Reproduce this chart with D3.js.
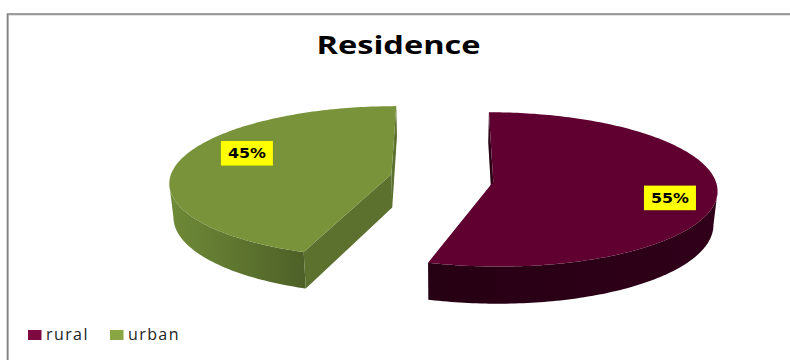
<!DOCTYPE html>
<html>
<head>
<meta charset="utf-8">
<script src="https://cdn.jsdelivr.net/npm/d3@7/dist/d3.min.js"></script>
<style>
  html, body { margin: 0; padding: 0; background: #fff; }
  svg { display: block; }
</style>
</head>
<body>
<svg id="chart" width="790" height="360"></svg>
<script>
// Chart content
const chartTitle = "Residence";
const categories = ["rural", "urban"];
const shares = [55, 45];

// Slice colours: top face, side walls (light and dark ends), legend swatch
const topColors = ["#600030", "#78933a"];
const wallLight = ["#300019", "#6f8a37"];
const wallDark = ["#260013", "#4e6128"];
const flatWall = ["#2a0015", "#5c712d"];
const legendColors = ["#7f0a42", "#8aa643"];

// Perspective camera for the tilted pie
const cam = { vx: 445, horizon: -587, height: 770, depthPerPx: 0.1 / 224, nadir: 0.985 };
const radius = 223;
const thickness = 33.5;
const baseX = -2.9;
const baseDepth = 1.0065;
const explode = 52.4;
const explodeTilt = 3 * Math.PI / 180;

// Small angular inset of the shared cut, in degrees, one [start, end] pair per slice
const cutInset = [[0, 1.4], [1.8, 0]];

// Data label placement, as a share of the radius and a turn past the mid angle
const labelReach = [0.8, 0.74];
const labelTurn = [6, 14];

const svg = d3.select("#chart");
const width = +svg.attr("width");
const height = +svg.attr("height");

// Frame: the chart border shows on its top and left sides
const frame = svg.append("g");
frame.append("path").attr("d", `M8.5,${height}V15H${width}`)
  .attr("fill", "none").attr("stroke", "#c8c8c8").attr("stroke-width", 1);
frame.append("path").attr("d", `M7.5,${height}V14H${width}`)
  .attr("fill", "none").attr("stroke", "#828282").attr("stroke-width", 1.6);

svg.append("text")
  .attr("x", 398.5).attr("y", 53.5)
  .attr("text-anchor", "middle")
  .attr("font-family", "Open Sans").attr("font-weight", 700)
  .attr("font-size", 25.5)
  .attr("textLength", 164).attr("lengthAdjust", "spacingAndGlyphs")
  .attr("fill", "#000")
  .text(chartTitle);

const defs = svg.append("defs");

// Ground-plane point (X across, depth away from the viewer) to screen, at a drop below the top face
function project(X, depth, drop) {
  const squeeze = 1 - (1 - cam.nadir) * drop / thickness;
  return [cam.vx + squeeze * X / depth, cam.horizon + (cam.height + drop) / depth];
}

const arcs = d3.pie().sort(null).startAngle(0).endAngle(2 * Math.PI)(shares);
const line = d3.line();
const step = Math.PI / 180;
const deg = Math.PI / 180;

const slices = svg.append("g");

arcs.forEach((arc, i) => {
  const mid = (arc.startAngle + arc.endAngle) / 2;
  const dir = mid + explodeTilt;
  const cx = baseX + explode * Math.sin(dir);
  const cz = baseDepth + explode * cam.depthPerPx * Math.cos(dir);
  const a0 = arc.startAngle + cutInset[i][0] * deg;
  const a1 = arc.endAngle - cutInset[i][1] * deg;

  const rim = a => [cx + radius * Math.sin(a), cz + radius * cam.depthPerPx * Math.cos(a)];
  const angles = d3.range(a0, a1, step).concat([a1]);

  // Which faces turn toward the viewer
  const seesNormal = (X, z, nx, nz) => (-X) * nx + (-z / cam.depthPerPx) * nz > 0;
  const frontAngles = angles.filter(a => {
    const [X, z] = rim(a);
    return seesNormal(X, z, Math.sin(a), Math.cos(a));
  });

  const g = slices.append("g");

  // Curved outer wall
  if (frontAngles.length > 1) {
    const upper = frontAngles.map(a => project(...rim(a), 0));
    const lower = frontAngles.map(a => project(...rim(a), thickness)).reverse();
    const xs = upper.map(p => p[0]);
    const id = `wall-${i}`;
    const grad = defs.append("linearGradient").attr("id", id)
      .attr("gradientUnits", "userSpaceOnUse")
      .attr("x1", d3.min(xs)).attr("x2", d3.max(xs)).attr("y1", 0).attr("y2", 0);
    const stops = i === 0 ? [wallDark[i], wallLight[i]] : [wallLight[i], wallDark[i]];
    grad.append("stop").attr("offset", 0).attr("stop-color", stops[0]);
    grad.append("stop").attr("offset", 1).attr("stop-color", stops[1]);
    g.append("path").attr("d", line(upper.concat(lower)) + "Z").attr("fill", `url(#${id})`);
  }

  // Flat cut walls on either side of the slice
  const cuts = [
    { a: a0, n: [-Math.cos(a0), Math.sin(a0)] },
    { a: a1, n: [Math.cos(a1), -Math.sin(a1)] }
  ];
  cuts.forEach(c => {
    if (!seesNormal(cx, cz, c.n[0], c.n[1])) return;
    const [rx, rz] = rim(c.a);
    const quad = [
      project(cx, cz, 0), project(rx, rz, 0),
      project(rx, rz, thickness), project(cx, cz, thickness)
    ];
    g.append("path").attr("d", line(quad) + "Z").attr("fill", flatWall[i]);
  });

  // Top face
  const face = [project(cx, cz, 0)].concat(angles.map(a => project(...rim(a), 0)));
  g.append("path").attr("d", line(face) + "Z").attr("fill", topColors[i]);

  // Percentage label on a yellow plate
  const la = mid + labelTurn[i] * deg;
  const [lx, ly] = project(
    cx + labelReach[i] * radius * Math.sin(la),
    cz + labelReach[i] * radius * cam.depthPerPx * Math.cos(la), 0);
  const label = g.append("g").attr("transform", `translate(${lx},${ly})`);
  label.append("rect").attr("x", -26).attr("y", -12.3).attr("width", 52).attr("height", 24.6)
    .attr("fill", "#ffff00");
  label.append("text").attr("text-anchor", "middle").attr("y", 5.2)
    .attr("font-family", "DejaVu Sans").attr("font-weight", 700).attr("font-size", 14)
    .attr("textLength", 38).attr("lengthAdjust", "spacingAndGlyphs")
    .attr("fill", "#000")
    .text(`${arc.value}%`);
});

// Legend along the bottom
const legendX = d3.scaleOrdinal().domain(categories).range([28, 110]);
const legend = svg.append("g").selectAll("g").data(categories).join("g")
  .attr("transform", d => `translate(${legendX(d)},330)`);
legend.append("rect").attr("width", 13.5).attr("height", 10)
  .attr("fill", (d, i) => legendColors[i]);
legend.append("text").attr("x", 18).attr("y", 10)
  .attr("font-family", "Open Sans").attr("font-size", 16)
  .attr("letter-spacing", 1.4).attr("fill", "#222")
  .text(d => d);
</script>
</body>
</html>
